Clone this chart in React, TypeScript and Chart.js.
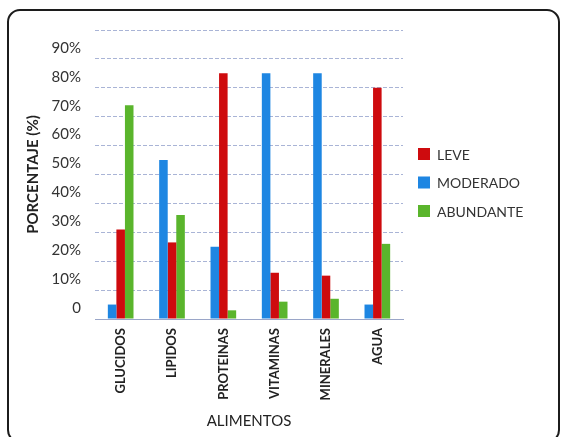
import React, { useEffect, useRef } from "react";
import { Chart, registerables } from "chart.js";

Chart.register(...registerables);

const categories = ["GLUCIDOS", "LIPIDOS", "PROTEINAS", "VITAMINAS", "MINERALES", "AGUA"];
const moderado = [5, 55, 25, 85, 85, 5];
const leve = [31, 26.5, 85, 16, 15, 80];
const abundante = [74, 36, 3, 6, 7, 26];
const yTicks = [0, 10, 20, 30, 40, 50, 60, 70, 80, 90, 100];
const legendOrder = ["LEVE", "MODERADO", "ABUNDANTE"];

const RED = "#CE0B0E";
const BLUE = "#1E86E2";
const GREEN = "#5AB52C";

const framePlugin = {
  id: "frame",
  beforeDraw(chart: any) {
    const ctx = chart.ctx;
    ctx.save();
    ctx.fillStyle = "#ffffff";
    ctx.fillRect(0, 0, chart.width, chart.height);
    ctx.strokeStyle = "#1c1c1c";
    ctx.lineWidth = 2;
    ctx.beginPath();
    ctx.roundRect(8, 10, 551, 432, 12);
    ctx.stroke();
    ctx.restore();
  },
};

const legendPlugin = {
  id: "customLegend",
  afterDraw(chart: any) {
    const ctx = chart.ctx;
    ctx.save();
    ctx.font = "14px Lato";
    ctx.textBaseline = "middle";
    ctx.textAlign = "left";
    legendOrder.forEach((name, i) => {
      const ds = chart.data.datasets.find((d: any) => d.label === name);
      if (!ds) return;
      const y = 154 + i * 28.5;
      ctx.fillStyle = ds.backgroundColor;
      ctx.fillRect(418, y - 6, 12, 12);
      ctx.fillStyle = "#333333";
      ctx.fillText(name, 437, y + 1);
    });
    ctx.restore();
  },
};

export default function App() {
  const ref = useRef<HTMLCanvasElement>(null);
  useEffect(() => {
    document.body.style.margin = "0";
    const chart = new Chart(ref.current!, {
      type: "bar",
      data: {
        labels: categories,
        datasets: [
          { label: "MODERADO", data: moderado, backgroundColor: BLUE },
          { label: "LEVE", data: leve, backgroundColor: RED },
          { label: "ABUNDANTE", data: abundante, backgroundColor: GREEN },
        ],
      },
      options: {
        animation: false,
        responsive: false,
        layout: { padding: { left: 24, top: 30, right: 159, bottom: 0 } },
        plugins: { legend: { display: false }, tooltip: { enabled: false } },
        datasets: { bar: { categoryPercentage: 0.5, barPercentage: 1.0 } },
        scales: {
          x: {
            grid: { display: false, drawTicks: false },
            border: { display: true, color: "#9aa6c8", width: 1 },
            ticks: {
              maxRotation: 90,
              minRotation: 90,
              padding: 9,
              color: "#222222",
              font: { family: "Lato", size: 13, weight: "bold" },
            },
            title: {
              display: true,
              text: "ALIMENTOS",
              color: "#222222",
              font: { family: "Lato", size: 15 },
              padding: { top: 0, bottom: 7 },
            },
            afterFit(scale: any) {
              scale.height = 118;
            },
          },
          y: {
            min: 0,
            max: 100,
            afterBuildTicks(scale: any) {
              scale.ticks = yTicks.map((v) => ({ value: v }));
            },
            grid: { color: "#a9b4d6", lineWidth: 1, drawTicks: false },
            border: { display: false, dash: [4, 2] },
            ticks: {
              padding: 14,
              labelOffset: -11,
              color: "#333333",
              font: { family: "Lato", size: 15 },
              callback: (v: any) => (v === 0 ? "0" : v === 100 ? "" : v + "%"),
            },
            title: {
              display: true,
              text: "PORCENTAJE (%)",
              color: "#222222",
              font: { family: "Lato", size: 15, weight: "bold" },
              padding: { top: 0, bottom: 0 },
            },
            afterFit(scale: any) {
              scale.width = 71;
            },
          },
        },
      },
      plugins: [framePlugin, legendPlugin],
    });
    return () => chart.destroy();
  }, []);
  return (
    <div style={{ position: "absolute", left: 0, top: 0 }}>
      <canvas ref={ref} width={562} height={437} style={{ width: 562, height: 437, display: "block" }} />
    </div>
  );
}
